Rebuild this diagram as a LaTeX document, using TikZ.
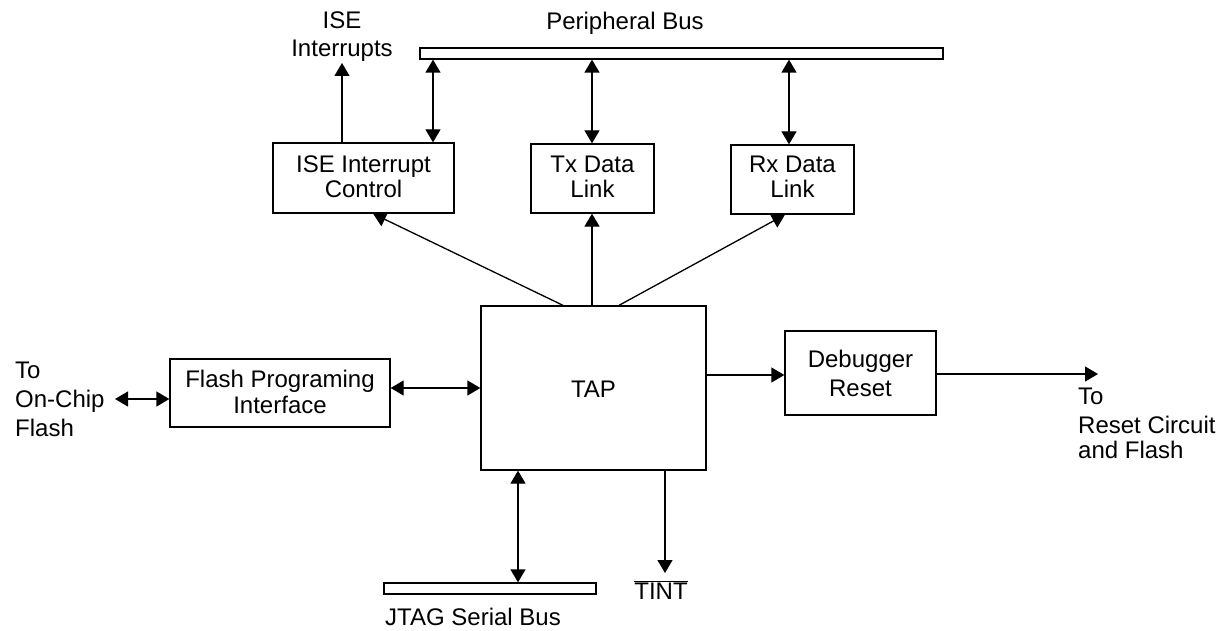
\documentclass[tikz,border=0pt]{standalone}
\usepackage{fontspec}
\setmainfont{Liberation Sans}
\usetikzlibrary{arrows.meta}
\begin{document}
\begin{tikzpicture}[x=1pt,y=-1pt,
  every node/.style={font=\fontsize{24}{25}\selectfont, inner sep=0pt},
  blk/.style={draw, line width=1.3pt, align=center},
  bus/.style={draw, line width=1.3pt},
  lbl/.style={align=center},
  conn/.style={line width=1.3pt},
  tip/.style={-{Triangle[length=13pt,width=15pt]}},
  dtip/.style={{Triangle[length=13pt,width=15pt]}-{Triangle[length=13pt,width=15pt]}}
]
\useasboundingbox (0,0) rectangle (1223,631);
% buses
\node[bus, minimum width=523pt, minimum height=11pt] (pbus) at (681.5,53.5) {};
\node[bus, minimum width=212pt, minimum height=11pt] (jtag) at (490,588.5) {};
% blocks
\node[blk, minimum width=181pt, minimum height=70pt] (ise) at (363.5,178) {};
\node[blk, minimum width=123pt, minimum height=69pt] (tx) at (592.5,178.5) {};
\node[blk, minimum width=123pt, minimum height=69pt] (rx) at (792.5,179.5) {};
\node[blk, minimum width=220pt, minimum height=68pt] (fpi) at (280,393) {};
\node[blk, minimum width=225pt, minimum height=164pt] (tap) at (593.5,388) {};
\node[blk, minimum width=151pt, minimum height=84pt] (dbg) at (860.5,373) {};
% texts
\node[anchor=base] (isetxt1) at (363.5,173) {ISE Interrupt};
\node[anchor=base] (isetxt2) at (363.5,197) {Control};
\node[anchor=base] (txtxt1) at (592.5,173) {Tx Data};
\node[anchor=base] (txtxt2) at (592.5,197) {Link};
\node[anchor=base] (rxtxt1) at (792.5,173) {Rx Data};
\node[anchor=base] (rxtxt2) at (792.5,197) {Link};
\node[anchor=base] (fpitxt1) at (280,387) {Flash Programing};
\node[anchor=base] (fpitxt2) at (280,413) {Interface};
\node[anchor=base] (taptxt) at (593.5,397) {TAP};
\node[anchor=base] (dbgtxt1) at (860.5,367) {Debugger};
\node[anchor=base] (dbgtxt2) at (860.5,396) {Reset};
\node[anchor=base] (pbustxt) at (625,30) {Peripheral Bus};
\node[anchor=base] (isei1) at (342,29) {ISE};
\node[anchor=base] (isei2) at (342,57) {Interrupts};
\node[anchor=base west] (oc1) at (15,378) {To};
\node[anchor=base west] (oc2) at (15,407) {On-Chip};
\node[anchor=base west] (oc3) at (15,436) {Flash};
\node[anchor=base west] (rc1) at (1078,404) {To};
\node[anchor=base west] (rc2) at (1078,433) {Reset Circuit};
\node[anchor=base west] (rc3) at (1078,458) {and Flash};
\node[anchor=base] (jtagtxt) at (473,625) {JTAG Serial Bus};
\node[anchor=base] (tint) at (661,599) {$\overline{\mbox{TINT}}$};
% free ends
\coordinate (iseout) at (342,63);
\coordinate (onchip) at (115,399);
\coordinate (rstout) at (1098,374);
\coordinate (tintend) at (665,573);
% connectors
\draw[conn,tip] (ise.north -| iseout) -- (iseout);
\draw[conn,dtip] (pbus.south -| 433,0) -- (ise.north -| 433,0);
\draw[conn,dtip] (pbus.south -| 592,0) -- (tx.north -| 592,0);
\draw[conn,dtip] (pbus.south -| 789,0) -- (rx.north -| 789,0);
\draw[conn,tip] (tap.north -| 563,0) -- (ise.south -| 373,0);
\draw[conn,tip] (tap.north -| 592,0) -- (tx.south -| 592,0);
\draw[conn,tip] (tap.north -| 619,0) -- (rx.south -| 785,0);
\draw[conn,tip] (tap.east |- 0,375) -- (dbg.west |- 0,375);
\draw[conn,tip] (dbg.east |- rstout) -- (rstout);
\draw[conn,dtip] (fpi.east |- 0,388) -- (tap.west |- 0,388);
\draw[conn,dtip] (onchip) -- (fpi.west |- onchip);
\draw[conn,dtip] (tap.south -| 518,0) -- (jtag.north -| 518,0);
\draw[conn,tip] (tap.south -| tintend) -- (tintend);
\end{tikzpicture}
\end{document}
